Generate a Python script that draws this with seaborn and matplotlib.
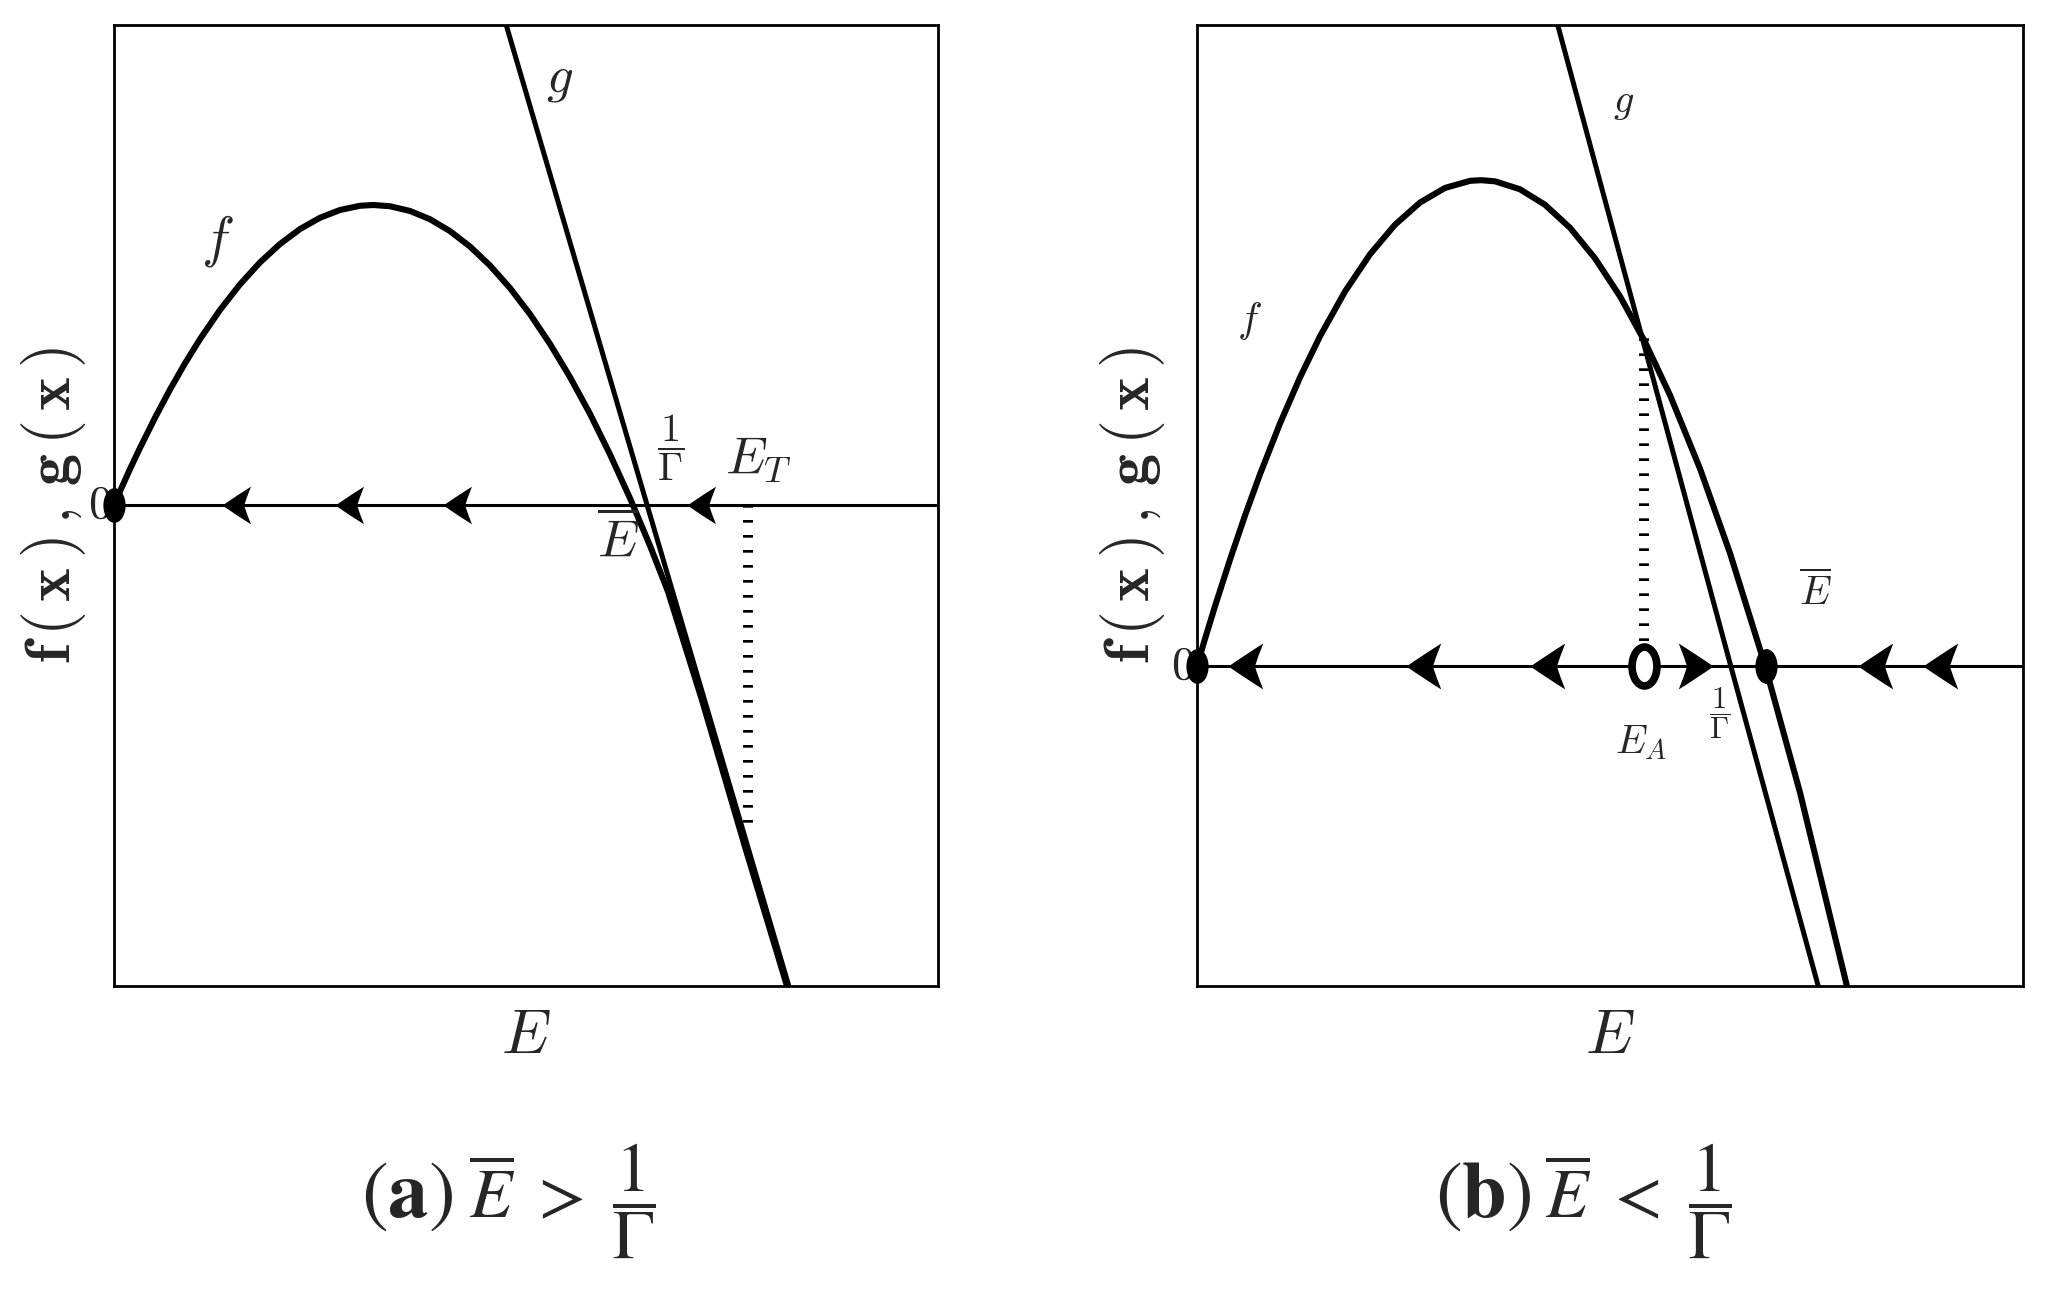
import matplotlib
matplotlib.use("Agg")
import matplotlib.pyplot as plt
import seaborn as sns
from matplotlib.path import Path

sns.set_style("white")
plt.rcParams["mathtext.fontset"] = "cm"
plt.rcParams["font.family"] = ["DejaVu Serif", "DejaVu Sans"]

# ---- panel (a): values ----
a_f_E = [0, 0.073, 0.194, 0.316, 0.498, 0.680, 0.862, 1.044, 1.286, 1.529,
         1.772, 2.015, 2.257, 2.500, 2.743, 2.985, 3.149, 3.350, 3.592, 3.835,
         4.078, 4.320, 4.563, 4.806, 5.049, 5.291, 5.534, 5.777, 6.019, 6.262,
         6.505, 6.723, 7.136, 7.670, 8.168]
a_f_y = [0, 0.143, 0.374, 0.595, 0.909, 1.203, 1.476, 1.728, 2.031, 2.298,
         2.527, 2.719, 2.874, 2.992, 3.073, 3.117, 3.125, 3.112, 3.063, 2.977,
         2.853, 2.693, 2.495, 2.260, 1.988, 1.679, 1.333, 0.950, 0.529, 0.072,
         -0.423, -0.900, -2.031, -3.594, -5.01]
a_g_E = [4.76, 6.47, 8.19]
a_g_y = [5.0, 0.0, -5.01]
a_dots = [0]
a_arrows_left = [1.31, 2.68, 3.99, 6.95]
a_ET = 7.69
a_ET_f = -3.40

# ---- panel (b) ----
b_f_E = [0, 0.097, 0.218, 0.400, 0.581, 0.763, 1.005, 1.247, 1.489, 1.792,
         2.094, 2.397, 2.700, 3.002, 3.305, 3.438, 3.608, 3.910, 4.213, 4.516,
         4.818, 5.121, 5.424, 5.726, 6.090, 6.453, 6.877, 7.300, 7.869]
b_f_y = [0, 0.281, 0.621, 1.108, 1.566, 1.997, 2.527, 3.006, 3.435, 3.902,
         4.289, 4.598, 4.829, 4.981, 5.055, 5.062, 5.050, 4.967, 4.805, 4.565,
         4.247, 3.850, 3.374, 2.820, 2.052, 1.171, 0, -1.324, -3.345]
b_g_E = [4.36, 6.46, 7.52]
b_g_y = [6.70, 0.0, -3.34]
b_dots = [0, 6.89]
b_EA = 5.41
b_EA_top = 3.42
b_arrows_left = [0.375, 2.53, 4.03, 8.00, 8.79]
b_arrows_right = [6.25]

M, C = Path.MOVETO, Path.CURVE3


def arrow_marker(s):
    # s = 1 points left, s = -1 points right; tip sits on the data point
    v = [(0, 0), (0.5 * s, 0.35), (1 * s, 0.66), (0.84 * s, 0.26), (0.76 * s, 0),
         (0.84 * s, -0.26), (1 * s, -0.66), (0.5 * s, -0.35), (0, 0), (0, 0)]
    codes = [M, C, C, C, C, C, C, C, C, Path.CLOSEPOLY]
    return Path(v, codes)


circ = Path.unit_circle()
oval = Path(circ.vertices * [0.64, 1.0], circ.codes)
left_arrow = arrow_marker(1)
right_arrow = arrow_marker(-1)

fig = plt.figure(figsize=(20.61, 12.95), dpi=100)
axa = fig.add_axes([0.0553, 0.2386, 0.3998, 0.7421])
axb = fig.add_axes([0.5808, 0.2386, 0.4008, 0.7421])

for ax in (axa, axb):
    ax.set_xlim(0, 10)
    ax.set_xticks([])
    ax.set_yticks([])
    for sp in ax.spines.values():
        sp.set_color("black")
        sp.set_linewidth(2)
    ax.axhline(0, color="black", lw=2.2, zorder=2)
    ax.set_ylabel(r"$\mathbf{f\,(\,x\,)\,,\,g\,(\,x\,)}$", fontsize=46)
    ax.set_xlabel(r"$E$", fontsize=45)
    ax.xaxis.set_label_coords(0.5, -0.02)
    ax.text(-0.17, 0, r"$0$", fontsize=34, ha="center", va="center", zorder=1)

axa.set_ylim(-5.01, 5.0)
axb.set_ylim(-3.34, 6.68)
axa.yaxis.set_label_coords(-0.031, 0.5)
axb.yaxis.set_label_coords(-0.036, 0.5)

# panel (a)
sns.lineplot(x=a_f_E, y=a_f_y, ax=axa, color="black", lw=4.4, sort=False, estimator=None, zorder=3)
sns.lineplot(x=a_g_E, y=a_g_y, ax=axa, color="black", lw=3.6, sort=False, estimator=None, zorder=3)
axa.plot([a_ET, a_ET], [0, a_ET_f], color="black", lw=7.2, linestyle=(0, (0.27, 1.23)), zorder=2)
axa.plot(a_dots, [0] * len(a_dots), ls="none", marker=oval, ms=25, mfc="black", mew=0,
         clip_on=False, zorder=5)
axa.plot(a_arrows_left, [0] * len(a_arrows_left), ls="none", marker=left_arrow, ms=41,
         mfc="black", mew=0, zorder=5)
axa.text(1.26, 2.75, r"$f$", fontsize=40, ha="center", va="center")
axa.text(5.41, 4.44, r"$g$", fontsize=38, ha="center", va="center")
axa.text(6.75, 0.60, r"$\dfrac{1}{\Gamma}$", fontsize=29, ha="center", va="center")
axa.text(7.82, 0.47, r"$E_T$", fontsize=38, ha="center", va="center")
axa.text(6.12, -0.385, r"$\overline{E}$", fontsize=38, ha="center", va="center")

# panel (b)
sns.lineplot(x=b_f_E, y=b_f_y, ax=axb, color="black", lw=4.4, sort=False, estimator=None, zorder=3)
sns.lineplot(x=b_g_E, y=b_g_y, ax=axb, color="black", lw=3.6, sort=False, estimator=None, zorder=3)
axb.plot([b_EA, b_EA], [0.26, b_EA_top], color="black", lw=7.2, linestyle=(0, (0.27, 1.23)), zorder=2)
axb.plot(b_dots, [0] * len(b_dots), ls="none", marker=oval, ms=25, mfc="black", mew=0,
         clip_on=False, zorder=5)
axb.plot([b_EA], [0], ls="none", marker=oval, ms=28, mfc="white", mec="black", mew=5.5, zorder=5)
axb.plot(b_arrows_left, [0] * len(b_arrows_left), ls="none", marker=left_arrow, ms=50,
         mfc="black", mew=0, zorder=5)
axb.plot(b_arrows_right, [0] * len(b_arrows_right), ls="none", marker=right_arrow, ms=50,
         mfc="black", mew=0, zorder=5)
axb.text(0.64, 3.59, r"$f$", fontsize=30, ha="center", va="center")
axb.text(5.16, 5.86, r"$g$", fontsize=29, ha="center", va="center")
axb.text(7.49, 0.755, r"$\overline{E}$", fontsize=29, ha="center", va="center")
axb.text(5.37, -0.80, r"$E_A$", fontsize=29, ha="center", va="center")
axb.text(6.33, -0.495, r"$\dfrac{1}{\Gamma}$", fontsize=22, ha="center", va="center")

# captions: bold panel letter, then the condition
fig.text(0.2198, 0.0602, r"$(\mathbf{a})$", fontsize=58, ha="right", va="baseline",
         math_fontfamily="stix")
fig.text(0.2275, 0.0602, r"$\overline{E}\ >\ \dfrac{1}{\Gamma}$", fontsize=50, ha="left",
         va="baseline", math_fontfamily="stix")
fig.text(0.7430, 0.0602, r"$(\mathbf{b})$", fontsize=58, ha="right", va="baseline",
         math_fontfamily="stix")
fig.text(0.7495, 0.0602, r"$\overline{E}\ <\ \dfrac{1}{\Gamma}$", fontsize=50, ha="left",
         va="baseline", math_fontfamily="stix")

fig.savefig("out.png", dpi=100, facecolor="white")
